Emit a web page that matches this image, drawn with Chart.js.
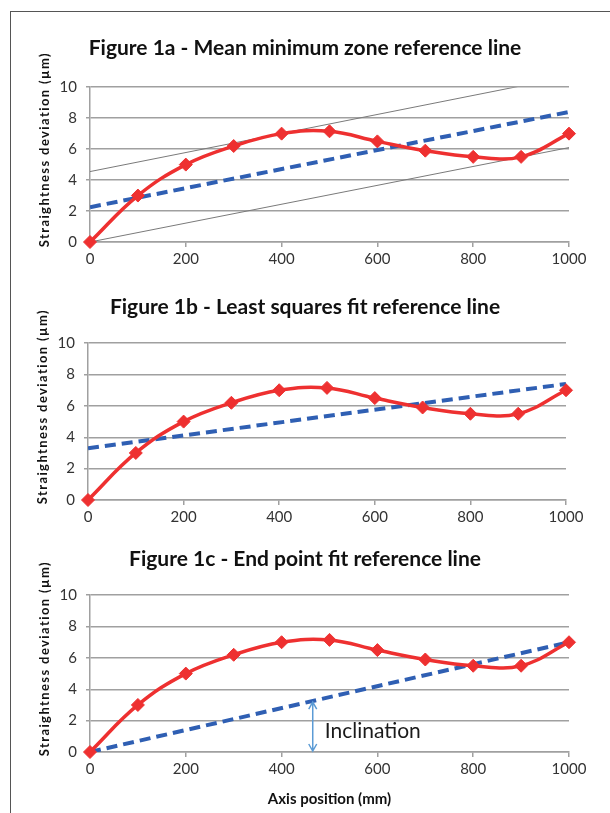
<!DOCTYPE html>
<html>
<head>
<meta charset="utf-8">
<script src="https://cdn.jsdelivr.net/npm/chart.js@4.4.1/dist/chart.umd.min.js"></script>
<style>
  html, body { margin: 0; padding: 0; background: #fff; }
  body { width: 610px; height: 813px; position: relative; overflow: hidden; }
  #frame { position: absolute; left: 10px; top: 11px; width: 620px; height: 820px;
           border-left: 1.5px solid #555; border-top: 1.5px solid #555; }
  canvas { position: absolute; left: 0; }
</style>
</head>
<body>
<div id="frame"></div>
<canvas id="c1" width="610" height="242" style="top:30px"></canvas>
<canvas id="c2" width="610" height="241" style="top:289px"></canvas>
<canvas id="c3" width="610" height="271" style="top:541px"></canvas>
<script>
// ---------- data ----------
const positions = [0, 100, 200, 300, 400, 500, 600, 700, 800, 900, 1000];
const deviation = [0, 3, 5, 6.2, 7, 7.15, 6.5, 5.9, 5.5, 5.5, 7];
const xTickValues = [0, 200, 400, 600, 800, 1000];
const yTickValues = [0, 2, 4, 6, 8, 10];
const refLineX = [0, 1000];
const mmzMean = [2.25, 8.4];
const mmzUpper = [4.55, 10.7];
const mmzLower = [0, 6.1];
const lsqLine = [3.3, 7.4];
const endPointLine = [0, 7];
const inclinationX = 465;
const inclinationY = [3.25, 0];
const inclinationLabelPos = [490, 1.35];
const titles = [
  'Figure 1a - Mean minimum zone reference line',
  'Figure 1b - Least squares fit reference line',
  'Figure 1c - End point fit reference line'
];
const yAxisTitle = 'Straightness deviation (\u00b5m)';
const xAxisTitle = 'Axis position (mm)';

// ---------- helpers ----------
const pts = (xs, ys) => xs.map((x, i) => ({ x: x, y: ys[i] }));
const RED = '#ee3030';
const BLUE = '#2f5fb3';
const GRID = '#a0a0a0';

function redSeries() {
  return {
    data: pts(positions, deviation), borderColor: RED, backgroundColor: RED,
    borderWidth: 3.5, tension: 0.4, pointStyle: 'rectRot', pointRadius: 6.5,
    pointBackgroundColor: RED, pointBorderColor: RED, pointBorderWidth: 1, order: 0,
    clip: 12
  };
}
function blueSeries(ys) {
  return {
    data: pts(refLineX, ys), borderColor: BLUE, borderWidth: 4, borderDash: [11, 6],
    pointRadius: 0, tension: 0, order: 1
  };
}
function graySeries(ys) {
  return {
    data: pts(refLineX, ys), borderColor: '#7a7a7a', borderWidth: 1,
    pointRadius: 0, tension: 0, order: 2
  };
}

const yTitlePlugin = {
  id: 'yTitle',
  afterDraw(chart) {
    const ca = chart.chartArea, ctx = chart.ctx;
    ctx.save();
    ctx.translate(ca.left - 45, (ca.top + ca.bottom) / 2 - 15);
    ctx.rotate(-Math.PI / 2);
    ctx.font = 'bold 13px Lato';
    try { ctx.letterSpacing = '1.4px'; } catch (e) {}
    ctx.fillStyle = '#111';
    ctx.textAlign = 'center';
    ctx.textBaseline = 'middle';
    ctx.fillText(yAxisTitle, 0, 0);
    ctx.restore();
  }
};

const inclinationPlugin = {
  id: 'inclination',
  afterDatasetsDraw(chart, args, opts) {
    if (!opts.show) return;
    const xs = chart.scales.x, ys = chart.scales.y, ctx = chart.ctx;
    const px = xs.getPixelForValue(inclinationX);
    const top = ys.getPixelForValue(inclinationY[0]);
    const bot = ys.getPixelForValue(inclinationY[1]);
    ctx.save();
    ctx.strokeStyle = '#5b9bd5';
    ctx.lineWidth = 1.5;
    ctx.beginPath();
    ctx.moveTo(px, top + 1); ctx.lineTo(px, bot - 1);
    ctx.moveTo(px - 4, top + 8); ctx.lineTo(px, top + 1); ctx.lineTo(px + 4, top + 8);
    ctx.moveTo(px - 4, bot - 8); ctx.lineTo(px, bot - 1); ctx.lineTo(px + 4, bot - 8);
    ctx.stroke();
    ctx.fillStyle = '#1a1a1a';
    ctx.font = '21px Lato';
    ctx.textAlign = 'left';
    ctx.textBaseline = 'middle';
    ctx.fillText('Inclination', xs.getPixelForValue(inclinationLabelPos[0]),
                 ys.getPixelForValue(inclinationLabelPos[1]));
    ctx.restore();
  }
};

function makeChart(id, title, datasets, cfg) {
  return new Chart(document.getElementById(id), {
    type: 'line',
    data: { datasets: datasets },
    plugins: [yTitlePlugin, inclinationPlugin],
    options: {
      responsive: false, animation: false, devicePixelRatio: 1,
      layout: { padding: 0 },
      plugins: {
        legend: { display: false }, tooltip: { enabled: false },
        title: {
          display: true, text: title, color: '#111',
          font: { family: 'Lato', size: 21, weight: 'bold' },
          padding: { top: 6, bottom: cfg.titleBottom },
          align: 'center'
        },
        inclination: { show: !!cfg.arrow }
      },
      scales: {
        x: {
          type: 'linear', min: 0, max: 1000,
          afterBuildTicks: s => { s.ticks = xTickValues.map(v => ({ value: v })); },
          afterFit: s => { s.height = cfg.xHeight; },
          grid: { drawOnChartArea: false, drawTicks: true, tickLength: 5, color: GRID, lineWidth: 1.5 },
          border: { display: true, color: GRID, width: 1.5 },
          ticks: { color: '#333', font: { family: 'Lato', size: 15 }, padding: 3, maxRotation: 0,
                   callback: v => String(v) },
          title: {
            display: !!cfg.xTitle, text: xAxisTitle, color: '#111',
            font: { family: 'Lato', size: 15, weight: 'bold' }, padding: { top: 4 }
          }
        },
        y: {
          min: 0, max: 10,
          afterBuildTicks: s => { s.ticks = yTickValues.map(v => ({ value: v })); },
          afterFit: s => { s.width = cfg.left; },
          grid: { drawTicks: true, tickLength: 4, color: GRID, lineWidth: 1.5 },
          border: { display: true, color: GRID, width: 1.5 },
          ticks: { color: '#333', font: { family: 'Lato', size: 15 }, padding: 9,
                   callback: v => String(v) }
        },
        spacer: {
          type: 'linear', position: 'right', min: 0, max: 10, display: true,
          afterFit: s => { s.width = cfg.right; },
          grid: { display: false }, border: { display: false }, ticks: { display: false }
        }
      }
    }
  });
}

makeChart('c1', titles[0],
  [redSeries(), blueSeries(mmzMean), graySeries(mmzUpper), graySeries(mmzLower)],
  { left: 90, right: 41, titleBottom: 26, xHeight: 30 });
makeChart('c2', titles[1],
  [redSeries(), blueSeries(lsqLine)],
  { left: 88, right: 44, titleBottom: 23, xHeight: 30 });
makeChart('c3', titles[2],
  [redSeries(), blueSeries(endPointLine)],
  { left: 90, right: 41, titleBottom: 23, xHeight: 60, xTitle: true, arrow: true });
</script>
</body>
</html>
